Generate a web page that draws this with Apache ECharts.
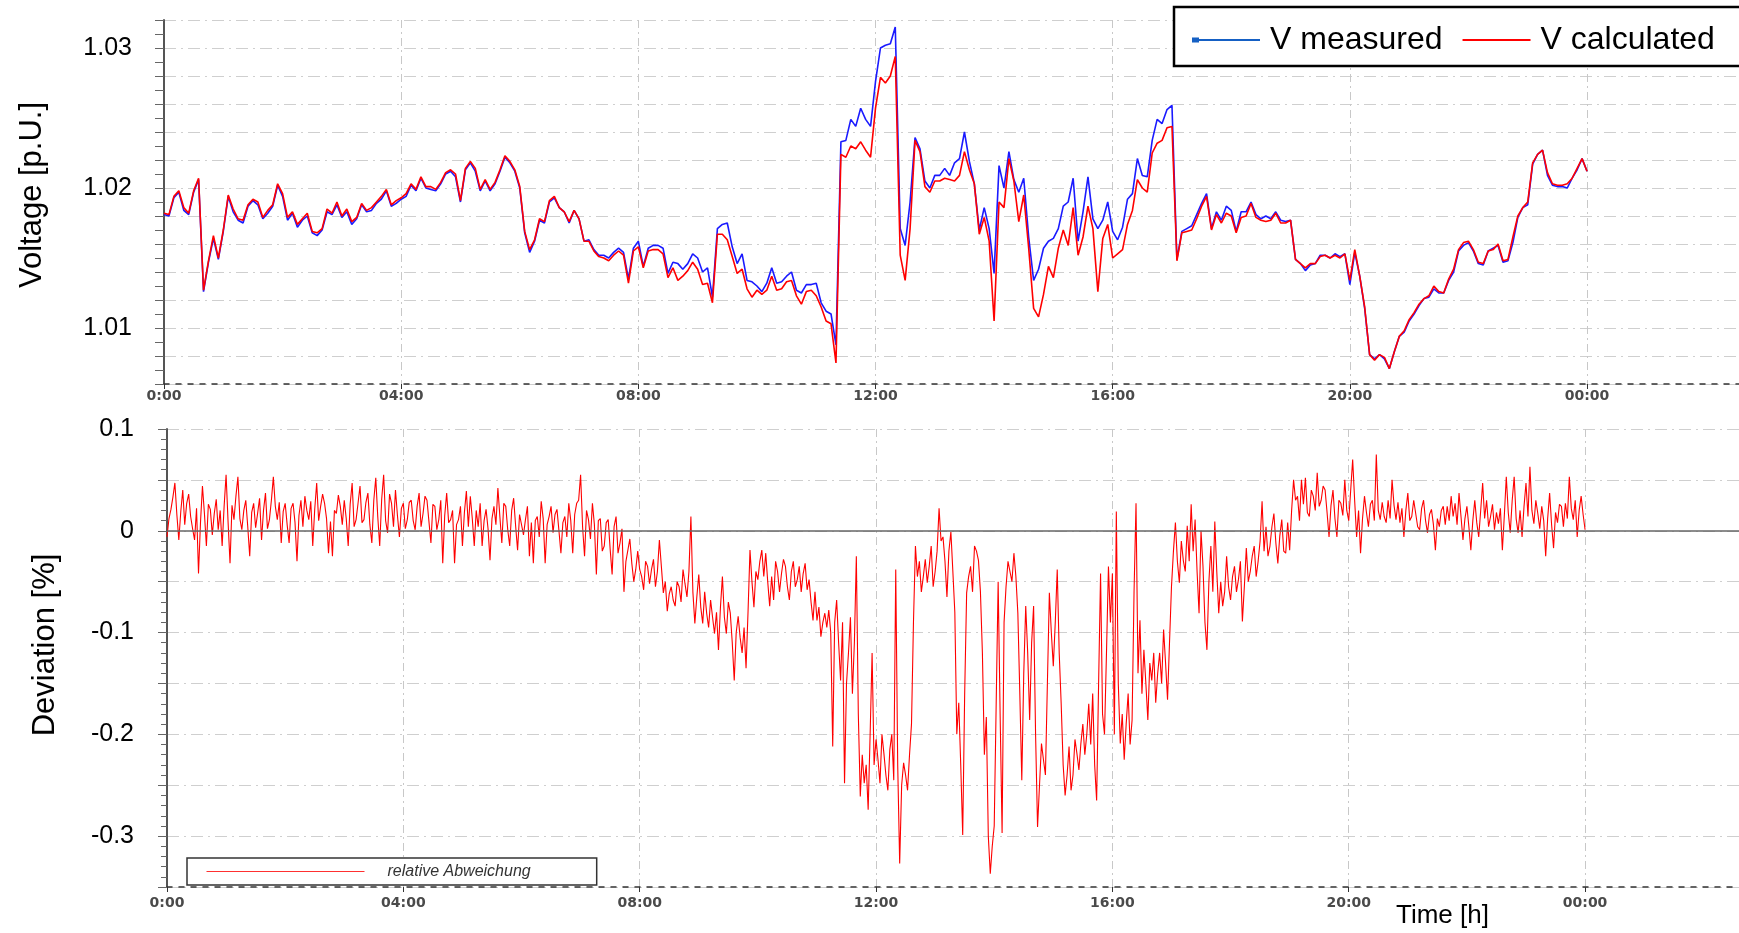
<!DOCTYPE html>
<html>
<head>
<meta charset="utf-8">
<script src="https://cdn.jsdelivr.net/npm/echarts/dist/echarts.min.js"></script>
<style>html,body{margin:0;padding:0;background:#fff}#chart{width:1739px;height:933px}</style>
</head>
<body>
<div id="chart"></div>
<script>
// ---------- data ----------
const STEP_V_MIN = 5;   // voltage samples every 5 minutes, 0:00 .. 24:00
const STEP_D_MIN = 2;   // deviation samples every 2 minutes, 0:00 .. 24:00

const timeTicks = [0, 240, 480, 720, 960, 1200, 1440];
const timeTickLabels = ['0:00', '04:00', '08:00', '12:00', '16:00', '20:00', '00:00'];

const vMeasured = [
1.0181,1.0180,1.0193,1.0197,1.0184,1.0181,1.0197,1.0206,1.0126,1.0147,
1.0164,1.0149,1.0169,1.0194,1.0183,1.0177,1.0175,1.0187,1.0191,1.0188,
1.0178,1.0182,1.0187,1.0202,1.0194,1.0177,1.0182,1.0172,1.0177,1.0180,
1.0168,1.0166,1.0170,1.0183,1.0181,1.0188,1.0179,1.0183,1.0174,1.0178,
1.0188,1.0183,1.0184,1.0189,1.0192,1.0198,1.0187,1.0189,1.0192,1.0194,
1.0202,1.0198,1.0207,1.0200,1.0199,1.0198,1.0203,1.0210,1.0212,1.0208,
1.0190,1.0213,1.0218,1.0212,1.0198,1.0205,1.0198,1.0203,1.0212,1.0222,
1.0218,1.0212,1.0200,1.0168,1.0154,1.0162,1.0177,1.0175,1.0190,1.0193,
1.0186,1.0183,1.0175,1.0184,1.0178,1.0162,1.0163,1.0156,1.0152,1.0152,
1.0150,1.0154,1.0157,1.0154,1.0135,1.0157,
1.0162,1.0144,1.0157,1.0159,1.0159,1.0157,1.0139,1.0147,1.0146,1.0142,
1.0146,1.0153,1.0150,1.0140,1.0143,1.0122,1.0171,1.0174,1.0175,1.0158,
1.0146,1.0153,1.0134,1.0133,1.0130,1.0126,1.0132,1.0143,1.0132,1.0133,
1.0137,1.0140,1.0127,1.0125,1.0131,1.0131,1.0132,1.0118,1.0112,1.0110,
1.0088,1.0233,1.0234,1.0249,1.0244,1.0257,1.0249,1.0244,1.0276,1.0300,
1.0302,1.0303,1.0315,1.0171,1.0159,1.0190,1.0236,1.0228,1.0205,1.0200,
1.0209,1.0209,1.0214,1.0209,1.0218,1.0221,1.0240,1.0219,1.0203,1.0170,
1.0186,1.0171,1.0139,1.0216,1.0200,1.0226,1.0206,1.0197,1.0207,1.0165,
1.0134,1.0142,1.0157,1.0162,1.0164,1.0171,1.0187,1.0190,1.0207,1.0162,
1.0183,1.0208,1.0178,1.0171,1.0177,1.0190,
1.0169,1.0163,1.0172,1.0192,1.0196,1.0221,1.0209,1.0208,1.0234,1.0249,
1.0246,1.0256,1.0259,1.0149,1.0169,1.0171,1.0173,1.0181,1.0189,1.0196,
1.0171,1.0183,1.0177,1.0187,1.0184,1.0169,1.0183,1.0183,1.0190,1.0181,
1.0178,1.0180,1.0178,1.0183,1.0177,1.0176,1.0177,1.0149,1.0146,1.0141,
1.0145,1.0146,1.0152,1.0152,1.0150,1.0153,1.0151,1.0153,1.0131,1.0154,
1.0137,1.0114,1.0081,1.0078,1.0081,1.0078,1.0071,1.0083,1.0094,1.0097,
1.0105,1.0110,1.0116,1.0121,1.0122,1.0128,1.0125,1.0125,1.0134,1.0140,
1.0155,1.0159,1.0161,1.0155,1.0146,1.0145,1.0155,1.0157,1.0159,1.0147,
1.0148,1.0161,1.0179,1.0186,1.0188,1.0217,1.0224,1.0227,1.0209,1.0202,
1.0201,1.0201,1.0200,1.0207,1.0213,1.0221,1.0212
];

const vCalculated = [
1.0182,1.0181,1.0194,1.0198,1.0186,1.0182,1.0198,1.0207,1.0127,1.0148,
1.0166,1.0150,1.0170,1.0195,1.0185,1.0178,1.0177,1.0188,1.0192,1.0190,
1.0179,1.0184,1.0188,1.0203,1.0196,1.0179,1.0183,1.0174,1.0178,1.0182,
1.0169,1.0168,1.0171,1.0185,1.0182,1.0190,1.0180,1.0185,1.0176,1.0179,
1.0189,1.0184,1.0186,1.0190,1.0194,1.0199,1.0188,1.0191,1.0193,1.0196,
1.0203,1.0199,1.0208,1.0201,1.0201,1.0199,1.0204,1.0211,1.0213,1.0210,
1.0191,1.0214,1.0219,1.0214,1.0199,1.0206,1.0199,1.0204,1.0213,1.0223,
1.0219,1.0213,1.0201,1.0169,1.0156,1.0163,1.0178,1.0176,1.0191,1.0194,
1.0186,1.0183,1.0176,1.0184,1.0178,1.0162,1.0162,1.0155,1.0151,1.0150,
1.0148,1.0152,1.0155,1.0152,1.0132,1.0155,
1.0158,1.0143,1.0155,1.0156,1.0156,1.0153,1.0136,1.0143,1.0134,1.0137,
1.0141,1.0147,1.0142,1.0131,1.0132,1.0118,1.0167,1.0167,1.0163,1.0151,
1.0139,1.0142,1.0128,1.0122,1.0127,1.0124,1.0127,1.0137,1.0127,1.0128,
1.0133,1.0134,1.0123,1.0117,1.0126,1.0127,1.0123,1.0115,1.0105,1.0103,
1.0075,1.0224,1.0222,1.0230,1.0228,1.0233,1.0227,1.0222,1.0257,1.0279,
1.0275,1.0280,1.0294,1.0152,1.0134,1.0171,1.0234,1.0226,1.0201,1.0197,
1.0205,1.0205,1.0207,1.0206,1.0205,1.0209,1.0226,1.0213,1.0203,1.0167,
1.0179,1.0162,1.0105,1.0190,1.0186,1.0221,1.0205,1.0176,1.0195,1.0157,
1.0114,1.0108,1.0124,1.0144,1.0136,1.0157,1.0170,1.0159,1.0186,1.0152,
1.0165,1.0187,1.0171,1.0126,1.0164,1.0174,
1.0150,1.0153,1.0156,1.0174,1.0184,1.0206,1.0200,1.0197,1.0225,1.0232,
1.0234,1.0243,1.0244,1.0148,1.0168,1.0169,1.0170,1.0178,1.0187,1.0194,
1.0170,1.0181,1.0175,1.0182,1.0180,1.0168,1.0179,1.0180,1.0189,1.0179,
1.0177,1.0176,1.0177,1.0182,1.0175,1.0175,1.0177,1.0149,1.0146,1.0143,
1.0146,1.0146,1.0151,1.0152,1.0150,1.0152,1.0150,1.0153,1.0134,1.0156,
1.0137,1.0115,1.0081,1.0077,1.0081,1.0079,1.0071,1.0083,1.0094,1.0098,
1.0106,1.0111,1.0117,1.0121,1.0123,1.0130,1.0126,1.0125,1.0135,1.0142,
1.0156,1.0161,1.0162,1.0156,1.0147,1.0146,1.0155,1.0156,1.0160,1.0148,
1.0149,1.0165,1.0180,1.0186,1.0190,1.0218,1.0224,1.0227,1.0211,1.0203,
1.0202,1.0202,1.0203,1.0207,1.0214,1.0221,1.0212
];

const deviation = [
-0.006,0.012,0.021,0.033,0.047,0.016,-0.009,0.019,0.040,0.006,0.027,0.036,0.014,0.002,-0.009,0.022,-0.042,0.008,0.044,0.017,
-0.015,0.026,0.021,-0.004,0.017,0.031,0.001,0.020,-0.015,0.024,0.055,0.009,-0.032,0.025,0.011,0.034,0.053,0.012,0.001,0.020,
0.030,0.004,-0.025,0.018,0.027,0.003,0.017,0.032,-0.009,0.020,0.037,0.002,0.011,0.030,0.053,0.024,0.011,0.028,-0.012,0.019,
0.027,0.006,-0.012,0.022,0.027,0.008,-0.030,0.015,0.030,0.004,0.034,0.020,0.011,0.029,-0.015,0.021,0.047,0.010,0.024,0.036,
0.027,0.012,-0.022,0.009,-0.025,0.020,0.017,0.035,0.024,0.006,0.030,0.012,-0.015,0.026,0.047,0.004,0.011,0.027,0.044,0.008,
0.011,0.028,0.037,0.006,-0.012,0.030,0.052,0.014,-0.015,0.031,0.055,0.010,-0.002,0.036,0.027,0.004,0.040,0.015,-0.006,0.022,
0.027,0.002,0.011,0.028,0.030,0.010,0.001,0.024,0.037,0.004,0.017,0.034,0.030,0.009,-0.012,0.026,0.024,0.001,0.011,0.030,
-0.032,0.015,0.037,0.008,0.011,0.020,-0.032,0.006,0.011,0.024,-0.015,0.018,0.039,0.004,0.034,0.012,-0.015,0.020,0.004,0.027,
-0.015,0.010,0.021,0.002,-0.029,0.012,0.024,0.006,0.042,0.014,-0.012,0.027,0.024,0.001,-0.015,0.020,0.032,0.005,-0.019,0.016,
0.017,-0.004,0.011,0.024,-0.025,0.008,-0.032,0.010,0.014,-0.006,0.029,0.012,-0.032,0.006,0.014,0.024,-0.002,0.016,0.021,0.000,
-0.022,0.008,0.014,-0.006,0.027,0.010,-0.022,0.016,0.027,0.030,0.055,0.004,-0.025,0.020,0.011,-0.008,0.027,0.006,-0.043,0.010,
0.012,-0.020,-0.015,0.008,0.011,-0.018,-0.043,0.004,0.014,-0.022,-0.012,0.002,-0.060,-0.030,-0.019,-0.008,-0.032,-0.050,-0.038,-0.020,
-0.038,-0.045,-0.058,-0.030,-0.035,-0.052,-0.038,-0.028,-0.055,-0.040,-0.009,-0.035,-0.061,-0.050,-0.079,-0.062,-0.055,-0.068,-0.074,-0.050,
-0.055,-0.070,-0.038,-0.052,-0.065,-0.040,0.014,-0.060,-0.091,-0.065,-0.043,-0.075,-0.091,-0.060,-0.081,-0.095,-0.068,-0.085,-0.101,-0.080,
-0.117,-0.075,-0.045,-0.085,-0.101,-0.070,-0.081,-0.110,-0.147,-0.100,-0.084,-0.105,-0.120,-0.095,-0.135,-0.080,-0.019,-0.050,-0.075,-0.040,
-0.048,-0.030,-0.019,-0.045,-0.022,-0.050,-0.074,-0.045,-0.068,-0.030,-0.040,-0.060,-0.042,-0.028,-0.035,-0.055,-0.068,-0.040,-0.030,-0.055,
-0.048,-0.035,-0.060,-0.042,-0.032,-0.058,-0.048,-0.070,-0.088,-0.060,-0.088,-0.075,-0.104,-0.090,-0.081,-0.095,-0.078,-0.100,-0.212,-0.090,
-0.068,-0.110,-0.147,-0.090,-0.248,-0.150,-0.120,-0.085,-0.160,-0.110,-0.025,-0.180,-0.261,-0.220,-0.248,-0.230,-0.274,-0.200,-0.120,-0.230,
-0.205,-0.225,-0.248,-0.200,-0.219,-0.240,-0.255,-0.215,-0.200,-0.245,-0.038,-0.230,-0.327,-0.250,-0.228,-0.240,-0.255,-0.220,-0.190,-0.090,
-0.015,-0.045,-0.030,-0.060,-0.045,-0.028,-0.051,-0.035,-0.015,-0.055,-0.040,-0.020,0.022,-0.010,-0.006,-0.030,-0.065,-0.020,-0.001,-0.040,
-0.080,-0.200,-0.169,-0.230,-0.299,-0.160,-0.061,-0.045,-0.035,-0.060,-0.015,-0.020,-0.029,-0.060,-0.120,-0.220,-0.183,-0.300,-0.337,-0.310,
-0.290,-0.170,-0.050,-0.180,-0.297,-0.090,-0.055,-0.030,-0.040,-0.050,-0.022,-0.045,-0.081,-0.160,-0.245,-0.140,-0.074,-0.120,-0.186,-0.110,
-0.074,-0.200,-0.291,-0.250,-0.209,-0.225,-0.240,-0.150,-0.061,-0.100,-0.133,-0.090,-0.038,-0.120,-0.170,-0.230,-0.260,-0.240,-0.212,-0.255,
-0.240,-0.205,-0.219,-0.235,-0.209,-0.190,-0.220,-0.200,-0.170,-0.210,-0.160,-0.230,-0.265,-0.150,-0.042,-0.180,-0.200,-0.120,-0.035,-0.090,
-0.042,-0.200,0.019,-0.150,-0.209,-0.180,-0.225,-0.190,-0.160,-0.210,-0.186,-0.060,0.027,-0.140,-0.088,-0.160,-0.117,-0.150,-0.186,-0.130,
-0.147,-0.120,-0.169,-0.140,-0.120,-0.150,-0.097,-0.130,-0.166,-0.110,-0.055,-0.020,0.008,-0.030,-0.051,-0.010,-0.029,-0.040,0.005,-0.030,
0.026,-0.020,0.011,-0.040,-0.081,0.000,-0.035,-0.090,-0.117,-0.050,-0.015,-0.060,0.009,-0.040,-0.081,-0.050,-0.074,-0.060,-0.025,-0.055,
-0.068,-0.045,-0.035,-0.060,-0.048,-0.030,-0.089,-0.055,-0.017,-0.050,-0.040,-0.025,-0.015,-0.045,-0.030,-0.010,0.029,-0.020,0.004,-0.025,
-0.015,0.004,0.017,-0.012,-0.032,-0.005,0.011,-0.020,-0.022,0.008,-0.019,0.020,0.050,0.030,0.034,0.010,0.050,0.026,0.052,0.018,
0.014,0.040,0.034,0.020,0.057,0.024,0.030,0.044,0.040,0.018,-0.006,0.025,0.040,0.012,-0.006,0.030,0.027,0.015,0.050,0.020,
0.010,0.040,0.070,0.030,-0.006,0.020,-0.022,0.012,0.034,0.018,0.004,0.026,0.030,0.010,0.075,0.020,0.011,0.028,0.014,0.008,
0.030,0.012,0.050,0.025,0.011,0.028,0.008,0.022,-0.006,0.020,0.037,0.010,0.014,0.030,0.017,0.004,0.001,0.022,0.030,0.010,
-0.002,0.016,0.021,0.006,-0.019,0.012,0.004,0.020,0.024,0.006,0.024,0.010,0.034,0.014,0.027,0.006,0.037,0.014,-0.009,0.012,
0.024,0.004,-0.019,0.010,0.030,0.008,-0.006,0.020,0.047,0.012,0.030,0.004,0.014,0.026,0.001,0.018,0.007,0.022,-0.019,0.015,
0.053,0.018,-0.002,0.030,0.053,0.012,-0.002,0.020,-0.006,0.024,0.047,0.014,0.063,0.020,0.007,0.030,0.017,0.002,0.024,0.010,
-0.025,0.012,0.037,0.006,-0.017,0.018,0.008,0.026,0.024,0.004,0.027,0.012,0.053,0.022,0.011,0.030,-0.006,0.020,0.034,0.016,
0.001
];

// ---------- chart ----------
const FONT = "'Liberation Sans', Arial, Helvetica, sans-serif";
const TICK_FONT = "'DejaVu Sans', Verdana, sans-serif";

function timeLabel(v) {
  const i = timeTicks.findIndex(t => Math.abs(t - v) < 1e-6);
  return i >= 0 ? timeTickLabels[i] : '';
}
function voltLabel(v) {
  const r = Math.round(v * 100);
  return Math.abs(v * 100 - r) < 1e-6 ? (r / 100).toFixed(2) : '';
}
function devLabel(v) {
  const r = Math.round(v * 10);
  if (Math.abs(v * 10 - r) > 1e-6) return '';
  return r === 0 ? '0' : (r / 10).toFixed(1);
}

const gridLine = { show: true, lineStyle: { color: '#cfcfcf', width: 1, type: [12, 5, 2, 5] } };
const vGridLine = { show: true, lineStyle: { color: '#c8c8c8', width: 1, type: [8, 4, 2, 4] } };

function xAxisCfg(gridIndex, max, margin) {
  return {
    type: 'value', gridIndex: gridIndex, min: 0, max: max, interval: 240,
    axisLine: { show: true, onZero: false, lineStyle: { color: '#333', width: 1.5, type: [5, 7] } },
    axisTick: { show: true, length: 5, lineStyle: { color: '#333' } },
    axisLabel: { show: true, formatter: timeLabel, margin: margin, fontFamily: TICK_FONT,
                 fontSize: 14, fontWeight: 'bold', color: '#4a4a4a', showMaxLabel: false },
    splitLine: vGridLine
  };
}

const chart = echarts.init(document.getElementById('chart'), null, { renderer: 'canvas' });
chart.setOption({
  animation: false,
  backgroundColor: '#ffffff',
  textStyle: { fontFamily: FONT },
  title: {
    text: 'Time [h]', left: 1396, top: 903, padding: 0,
    textStyle: { fontFamily: FONT, fontSize: 26, fontWeight: 'normal', color: '#000' }
  },
  grid: [
    { left: 164, top: 20, right: 0, bottom: 549, containLabel: false, outerBoundsMode: 'none' },
    { left: 167, top: 429, right: 0, bottom: 46, containLabel: false, outerBoundsMode: 'none' }
  ],
  legend: [
    {
      left: 1174, top: 7, width: 700, orient: 'horizontal', selectedMode: false,
      padding: [17, 40, 10, 18], itemGap: 20, itemWidth: 68, itemHeight: 8,
      backgroundColor: '#fff', borderColor: '#000', borderWidth: 2.5, borderRadius: 0,
      textStyle: { fontFamily: FONT, fontSize: 32, color: '#000', padding: [0, 0, 0, 5] },
      data: [
        { name: 'V measured', icon: 'path://M0,0 M0,1.6 L7,1.6 L7,3.1 L68,3.1 L68,4.9 L7,4.9 L7,6.4 L0,6.4 Z M68,8',
          itemStyle: { color: '#1560c4' } },
        { name: 'V calculated', icon: 'path://M0,0 M0,3 L68,3 L68,5 L0,5 Z M68,8',
          itemStyle: { color: '#ff0000' } }
      ]
    },
    {
      left: 187, top: 858, width: 500, orient: 'horizontal', selectedMode: false,
      padding: [5.5, 66, 5.5, 19.5], itemWidth: 158, itemHeight: 4,
      backgroundColor: '#fff', borderColor: '#333', borderWidth: 1.5, borderRadius: 0,
      textStyle: { fontFamily: FONT, fontStyle: 'italic', fontSize: 16, color: '#333', padding: [0, 0, 0, 18] },
      data: [
        { name: 'relative Abweichung', icon: 'path://M0,0 M0,1.4 L158,1.4 L158,2.6 L0,2.6 Z M158,4',
          itemStyle: { color: '#ff3030' } }
      ]
    }
  ],
  xAxis: [
    xAxisCfg(0, 1593.8, 5),
    xAxisCfg(1, 1596.3, 9)
  ],
  yAxis: [
    {
      type: 'value', gridIndex: 0, min: 1.006, max: 1.032, interval: 0.002,
      name: 'Voltage [p.U.]', nameLocation: 'middle', nameGap: 116,
      nameTextStyle: { fontFamily: FONT, fontSize: 31, color: '#000', padding: [0, 0, 0, 14] },
      axisLine: { show: true, lineStyle: { color: '#555', width: 2 } },
      axisTick: { show: true, length: 9, lineStyle: { color: '#666' } },
      minorTick: { show: true, splitNumber: 2, length: 9, lineStyle: { color: '#666' } },
      axisLabel: { show: true, formatter: voltLabel, margin: 32, fontFamily: FONT, fontSize: 25,
                   color: '#000', padding: [0, 0, 10, 0] },
      splitLine: gridLine
    },
    {
      type: 'value', gridIndex: 1, min: -0.35, max: 0.1, interval: 0.05,
      name: 'Deviation [%]', nameLocation: 'middle', nameGap: 106,
      nameTextStyle: { fontFamily: FONT, fontSize: 31, color: '#000', padding: [0, 0, 0, 26] },
      axisLine: { show: true, lineStyle: { color: '#555', width: 2 } },
      axisTick: { show: true, length: 9, lineStyle: { color: '#666' } },
      minorTick: { show: true, splitNumber: 5, length: 6, lineStyle: { color: '#666' } },
      axisLabel: { show: true, formatter: devLabel, margin: 33, fontFamily: FONT, fontSize: 25,
                   color: '#000', padding: [0, 0, 8, 0] },
      splitLine: gridLine
    }
  ],
  series: [
    {
      name: 'V measured', type: 'line', xAxisIndex: 0, yAxisIndex: 0,
      data: vMeasured.map((v, i) => [i * STEP_V_MIN, v]),
      showSymbol: false, symbol: 'none', lineStyle: { color: '#1a1aff', width: 1.6 },
      itemStyle: { color: '#1a1aff' }, z: 2
    },
    {
      name: 'V calculated', type: 'line', xAxisIndex: 0, yAxisIndex: 0,
      data: vCalculated.map((v, i) => [i * STEP_V_MIN, v]),
      showSymbol: false, symbol: 'none', lineStyle: { color: '#ff0000', width: 1.6 },
      itemStyle: { color: '#ff0000' }, z: 3
    },
    {
      name: 'relative Abweichung', type: 'line', xAxisIndex: 1, yAxisIndex: 1,
      data: deviation.map((v, i) => [i * STEP_D_MIN, v]),
      showSymbol: false, symbol: 'none', lineStyle: { color: '#ff0000', width: 1.1 },
      itemStyle: { color: '#ff0000' }, z: 3,
      markLine: {
        silent: true, symbol: 'none', label: { show: false },
        lineStyle: { color: '#666', type: 'solid', width: 1.5 },
        data: [{ yAxis: 0 }]
      }
    }
  ]
});
</script>
</body>
</html>
